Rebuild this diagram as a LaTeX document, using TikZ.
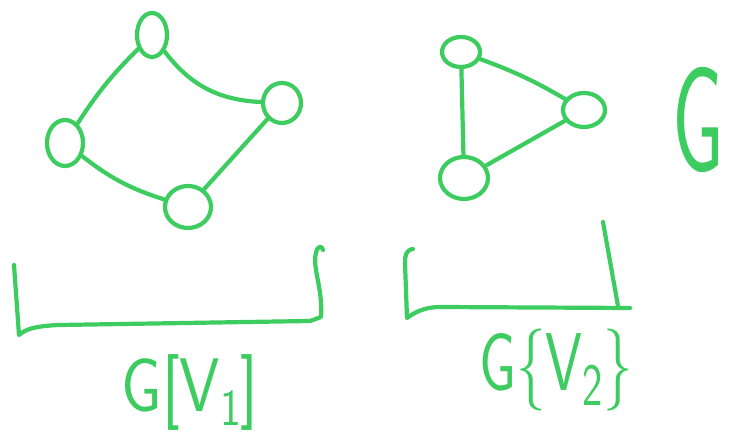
\documentclass[tikz,border=0pt]{standalone}
\usetikzlibrary{shapes.geometric}
\definecolor{pen}{RGB}{60,204,96}
\newcommand{\sub}[2]{\raisebox{-0.18em}{\fontsize{#1}{#1}\selectfont #2}}
\begin{document}
\begin{tikzpicture}[x=1pt,y=1pt,
  ink/.style={draw=pen,line width=4.2pt,line cap=round,line join=round},
  vtx/.style={ink,ellipse,inner sep=0pt},
  lbl/.style={text=pen,inner sep=0pt}]
\useasboundingbox[fill=white] (0,0) rectangle (742,438);
% graph 1
\node[vtx,minimum width=30pt,minimum height=44pt] (a) at (152,403) {};
\node[vtx,minimum width=38pt,minimum height=40pt] (b) at (282,335) {};
\node[vtx,minimum width=36pt,minimum height=46pt] (c) at (65,295) {};
\node[vtx,minimum width=46pt,minimum height=42pt] (d) at (188,231) {};
\draw[ink] (a) to[bend right=6] (c);
\draw[ink] (a) to[bend right=25] (b);
\draw[ink] (b) -- (d);
\draw[ink] (c) to[bend right=10] (d);
% graph 2
\node[vtx,minimum width=38pt,minimum height=30pt] (e) at (461,386) {};
\node[vtx,minimum width=42pt,minimum height=34pt] (f) at (584,328) {};
\node[vtx,minimum width=48pt,minimum height=42pt] (g) at (464,260) {};
\draw[ink] (e) -- (g);
\draw[ink] (e) to[bend left=5] (f);
\draw[ink] (f) -- (g);
% brackets
\draw[ink] (14,173) -- (19,103) .. controls (24,107) and (30,112) .. (60,113) -- (310,117) -- (321,121)
  .. controls (323,150) and (312,170) .. (316,185) .. controls (317,192) and (322,193) .. (323,188);
\draw[ink] (413,189) .. controls (406,188) and (405,183) .. (405,175) -- (407,120)
  .. controls (415,126) and (425,131) .. (440,131) -- (630,130);
\draw[ink] (603,216) -- (618,132);
% labels
\node[lbl,font=\sffamily\fontsize{76}{76}\selectfont] (l1) at (190,45)
  {\scalebox{0.85}[1]{G[V\sub{52}{1}]}};
\node[lbl,font=\sffamily\fontsize{82}{82}\selectfont] (l2) at (556,68)
  {\scalebox{0.72}[1]{G\{V\sub{60}{2}\}}};
\node[lbl,font=\sffamily\fontsize{150}{150}\selectfont,anchor=west] (l3) at (672,318)
  {\scalebox{0.55}[1]{G}};
\end{tikzpicture}
\end{document}
